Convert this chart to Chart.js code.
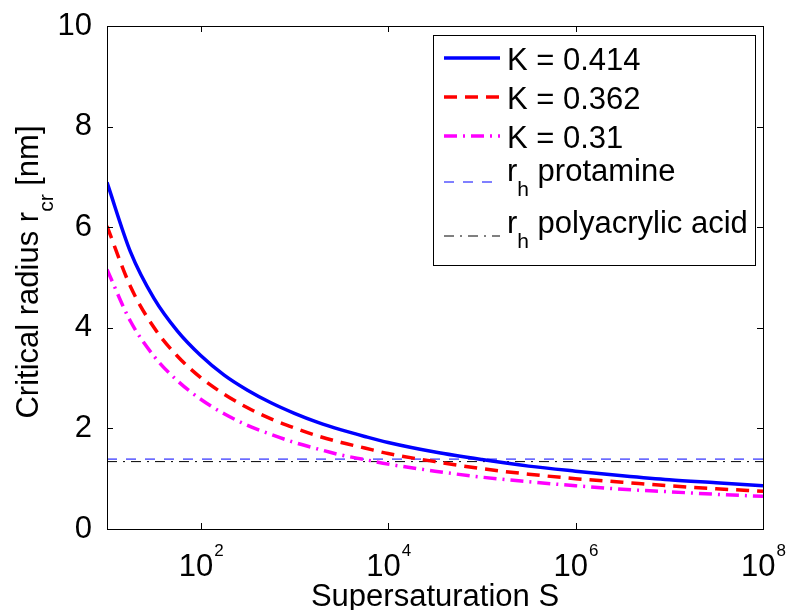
<!DOCTYPE html>
<html lang="en">
<head>
    <meta charset="UTF-8">
    <title>Critical radius vs supersaturation</title>
    <script src="https://cdn.jsdelivr.net/npm/chart.js"></script>
    <style>
        html, body { margin: 0; padding: 0; background: #fff; }
        #chart { display: block; }
    </style>
</head>
<body>
    <canvas id="chart" width="790" height="610"></canvas>

    <script>
        // values
        const supersat = [10, 17.8, 31.6, 56.2, 100, 178, 316, 562, 1000, 1778, 3162, 5623,
                          1e4, 3.16e4, 1e5, 3.16e5, 1e6, 3.16e6, 1e7, 3.16e7, 1e8];
        const rK414 = [6.89, 5.51, 4.59, 3.94, 3.45, 3.06, 2.76, 2.51, 2.30, 2.12, 1.97, 1.84,
                       1.72, 1.53, 1.38, 1.25, 1.15, 1.06, 0.98, 0.92, 0.86];
        const rK362 = [6.02, 4.82, 4.01, 3.44, 3.01, 2.68, 2.41, 2.19, 2.01, 1.85, 1.72, 1.61,
                       1.50, 1.34, 1.20, 1.09, 1.00, 0.93, 0.86, 0.80, 0.75];
        const rK31 = [5.16, 4.13, 3.44, 2.95, 2.58, 2.29, 2.06, 1.88, 1.72, 1.59, 1.47, 1.38,
                      1.29, 1.15, 1.03, 0.94, 0.86, 0.79, 0.74, 0.69, 0.65];
        const hLineS = [10, 1e8];
        const rhProtamine = [1.39, 1.39];
        const rhPaa = [1.34, 1.34];

        const xTicks = [1e2, 1e4, 1e6, 1e8];
        const xTickExp = ['2', '4', '6', '8'];
        const yTicks = [0, 2, 4, 6, 8, 10];

        const FONT = '"Liberation Sans", Arial, sans-serif';
        const BIG = 31, SMALL = 21, EXP = 17;

        function pts(xs, ys) {
            return xs.map((x, i) => ({ x: x, y: ys[i] }));
        }

        const datasets = [
            { label: 'K = 0.414', data: pts(supersat, rK414), borderColor: '#0000ff', borderWidth: 3.5, borderDash: [] },
            { label: 'K = 0.362', data: pts(supersat, rK362), borderColor: '#ff0000', borderWidth: 3.5, borderDash: [13, 8] },
            { label: 'K = 0.31', data: pts(supersat, rK31), borderColor: '#ff00ff', borderWidth: 3.5, borderDash: [13, 6, 2, 6] },
            { label: 'protamine', sub: 'h', data: pts(hLineS, rhProtamine), borderColor: '#0000ff', borderWidth: 1, borderDash: [10, 9] },
            { label: 'polyacrylic acid', sub: 'h', data: pts(hLineS, rhPaa), borderColor: '#000000', borderWidth: 1, borderDash: [10, 6, 2, 6] }
        ];
        datasets.forEach(d => {
            d.showLine = true;
            d.pointRadius = 0;
            d.fill = false;
            d.cubicInterpolationMode = 'monotone';
        });

        // text with a lowered subscript, drawn left to right from x
        function subText(ctx, x, y, main, sub, rest) {
            ctx.font = BIG + 'px ' + FONT;
            ctx.fillText(main, x, y);
            x += ctx.measureText(main).width;
            ctx.font = SMALL + 'px ' + FONT;
            ctx.fillText(sub, x, y + 15);
            x += ctx.measureText(sub).width;
            ctx.font = BIG + 'px ' + FONT;
            ctx.fillText(rest, x, y);
        }

        const matlabLook = {
            id: 'matlabLook',
            afterDatasetsDraw(chart) {
                const ctx = chart.ctx;
                const a = chart.chartArea;
                const xs = chart.scales.x, ys = chart.scales.y;
                ctx.save();
                ctx.strokeStyle = '#000';
                ctx.lineWidth = 1;
                ctx.setLineDash([]);

                // box
                ctx.strokeRect(Math.round(a.left) + 0.5, Math.round(a.top) + 0.5,
                    Math.round(a.right - a.left), Math.round(a.bottom - a.top));

                // inward ticks
                ctx.beginPath();
                yTicks.forEach(v => {
                    const py = Math.round(ys.getPixelForValue(v)) + 0.5;
                    ctx.moveTo(a.left, py); ctx.lineTo(a.left + 6, py);
                    ctx.moveTo(a.right, py); ctx.lineTo(a.right - 6, py);
                });
                xTicks.forEach(v => {
                    const px = Math.round(xs.getPixelForValue(v)) + 0.5;
                    ctx.moveTo(px, a.bottom); ctx.lineTo(px, a.bottom - 6);
                    ctx.moveTo(px, a.top); ctx.lineTo(px, a.top + 6);
                });
                ctx.stroke();

                // x tick labels 10^n
                ctx.fillStyle = '#000';
                ctx.textBaseline = 'alphabetic';
                ctx.textAlign = 'left';
                xTicks.forEach((v, i) => {
                    const px = xs.getPixelForValue(v);
                    ctx.font = BIG + 'px ' + FONT;
                    const w1 = ctx.measureText('10').width;
                    ctx.font = EXP + 'px ' + FONT;
                    const w2 = ctx.measureText(xTickExp[i]).width;
                    const x0 = px - (w1 + w2) / 2;
                    ctx.font = BIG + 'px ' + FONT;
                    ctx.fillText('10', x0, 576);
                    ctx.font = EXP + 'px ' + FONT;
                    ctx.fillText(xTickExp[i], x0 + w1 + 1, 556);
                });

                // x title
                ctx.font = BIG + 'px ' + FONT;
                ctx.textAlign = 'center';
                ctx.fillText('Supersaturation S', (a.left + a.right) / 2, 606);

                // y title, rotated, with subscript
                ctx.save();
                ctx.translate(38, 272);
                ctx.rotate(-Math.PI / 2);
                ctx.textAlign = 'left';
                ctx.font = BIG + 'px ' + FONT;
                const m1 = ctx.measureText('Critical radius r').width;
                const m3 = ctx.measureText(' [nm]').width;
                ctx.font = SMALL + 'px ' + FONT;
                const m2 = ctx.measureText('cr').width;
                subText(ctx, -(m1 + m2 + m3) / 2, 0, 'Critical radius r', 'cr', ' [nm]');
                ctx.restore();

                // legend
                const lx = 433, ly = 35, lw = 322, lh = 230;
                ctx.fillStyle = '#fff';
                ctx.fillRect(lx, ly, lw, lh);
                ctx.strokeStyle = '#000';
                ctx.lineWidth = 1;
                ctx.strokeRect(lx + 0.5, ly + 0.5, lw, lh);

                const rowsLine = [58, 97, 136, 182, 236];
                const rowsText = [70, 109, 148, 181, 233];
                ctx.save();
                ctx.beginPath();
                ctx.rect(lx, ly, lw, lh);
                ctx.clip();
                chart.data.datasets.forEach((d, i) => {
                    ctx.strokeStyle = d.borderColor;
                    ctx.lineWidth = d.borderWidth;
                    ctx.setLineDash(d.borderDash);
                    ctx.beginPath();
                    ctx.moveTo(444, rowsLine[i]);
                    ctx.lineTo(500, rowsLine[i]);
                    ctx.stroke();
                    ctx.setLineDash([]);
                    ctx.fillStyle = '#000';
                    ctx.textAlign = 'left';
                    if (d.sub) {
                        subText(ctx, 507, rowsText[i], 'r', d.sub, ' ' + d.label);
                    } else {
                        ctx.font = BIG + 'px ' + FONT;
                        ctx.fillText(d.label, 507, rowsText[i]);
                    }
                });
                ctx.restore();
                ctx.restore();
            }
        };

        new Chart(document.getElementById('chart'), {
            type: 'scatter',
            data: { datasets: datasets },
            options: {
                responsive: false,
                animation: false,
                layout: { padding: { top: 26, right: 27, left: 0, bottom: 0 } },
                plugins: {
                    legend: { display: false },
                    tooltip: { enabled: false }
                },
                scales: {
                    x: {
                        type: 'logarithmic',
                        min: 10,
                        max: 1e8,
                        grid: { display: false },
                        border: { display: false },
                        ticks: { display: false },
                        afterFit(s) { s.height = 81; }
                    },
                    y: {
                        min: 0,
                        max: 10,
                        grid: { display: false },
                        border: { display: false },
                        afterBuildTicks(s) { s.ticks = yTicks.map(v => ({ value: v })); },
                        ticks: {
                            color: '#000',
                            padding: 7,
                            font: { family: FONT, size: BIG }
                        },
                        afterFit(s) { s.width = 107; }
                    }
                }
            },
            plugins: [matlabLook]
        });
    </script>
</body>
</html>
